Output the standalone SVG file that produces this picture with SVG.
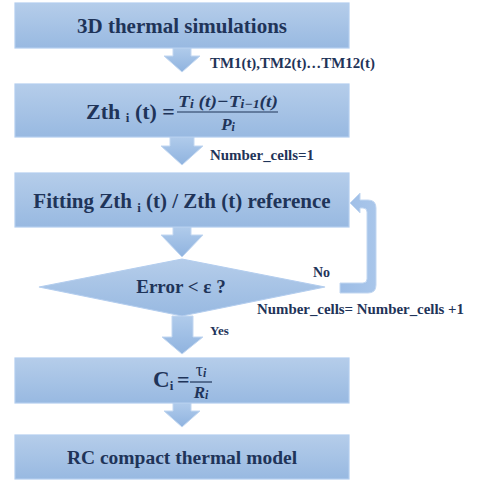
<svg xmlns="http://www.w3.org/2000/svg" width="477" height="480" viewBox="0 0 477 480">
<defs>
<linearGradient id="gBox" x1="0" y1="0" x2="0" y2="1">
<stop offset="0" stop-color="#b5cdea"/>
<stop offset="1" stop-color="#98b9e1"/>
</linearGradient>
<linearGradient id="gArr" x1="0" y1="0" x2="0" y2="1">
<stop offset="0" stop-color="#b0cbeb"/>
<stop offset="1" stop-color="#8fb3df"/>
</linearGradient>
<linearGradient id="gFb" x1="0" y1="0" x2="1" y2="0">
<stop offset="0" stop-color="#9dbde6"/>
<stop offset="1" stop-color="#a9c6ea"/>
</linearGradient>
</defs>
<style>
.box{fill:url(#gBox);stroke:#b3cdee;stroke-width:1.2}
.arr{fill:url(#gArr);stroke:#c2d7f1;stroke-width:1}
.t{font-family:"Liberation Serif","Times New Roman",serif;font-weight:bold;fill:#1f3459}
.m{font-family:"Liberation Serif","Times New Roman",serif;font-weight:bold;font-style:italic;fill:#1f3459}
</style>
<g id="connectors">
<path class="arr" d="M173,48 H191 V56 H200 L182,72 L164,56 H173 Z"/>
<path class="arr" d="M170,137 H194 V146 H203 L182,165 L161,146 H170 Z"/>
<path class="arr" d="M173,227 H191 V235 H203 L182,257 L161,235 H173 Z"/>
<path class="arr" d="M172,316 H193 V337 H203 L182,354 L162,337 H172 Z"/>
<path class="arr" d="M173,403 H191 V411 H200 L182,427 L164,411 H173 Z"/>
<path fill="url(#gFb)" stroke="#c2d7f1" stroke-width="1" d="M340,283 H363 Q367,283 367,279 V212 Q367,208 363,208 H360 V213 L350,203 L360,193 V200 H368 Q376,200 376,208 V285 Q376,293 368,293 H340 Z"/>
<text class="t" x="210" y="68" font-size="14" textLength="165" lengthAdjust="spacingAndGlyphs">TM1(t),TM2(t)…TM12(t)</text>
<text class="t" x="210" y="160" font-size="14" textLength="104" lengthAdjust="spacingAndGlyphs">Number_cells=1</text>
<text class="t" x="313" y="277" font-size="14">No</text>
<text class="t" x="257" y="314" font-size="14" textLength="207" lengthAdjust="spacingAndGlyphs">Number_cells= Number_cells +1</text>
<text class="t" x="210" y="335" font-size="13">Yes</text>
</g>
<g id="n1">
<rect class="box" x="15" y="3" width="334" height="45"/>
<text class="t" x="182" y="33" font-size="21" text-anchor="middle">3D thermal simulations</text>
</g>
<g id="n2">
<rect class="box" x="15" y="84" width="334" height="53"/>
<text class="t" x="86" y="119" font-size="22">Zth <tspan font-size="13" dy="3">i</tspan><tspan dy="-3"> (t) =</tspan></text>
<text class="m" x="178" y="107" font-size="17" textLength="100" lengthAdjust="spacingAndGlyphs">T<tspan font-size="12" dy="1">i</tspan><tspan dy="-1"> (t)−T</tspan><tspan font-size="12" dy="1">i−1</tspan><tspan dy="-1">(t)</tspan></text>
<line x1="177" y1="112" x2="278" y2="112" stroke="#1f3459" stroke-width="1.2"/>
<text class="m" x="228" y="130" font-size="17" text-anchor="middle">P<tspan font-size="12" dy="1">i</tspan></text>
</g>
<g id="n3">
<rect class="box" x="15" y="173" width="334" height="54"/>
<text class="t" x="182" y="208" font-size="21" text-anchor="middle">Fitting Zth <tspan font-size="13" dy="4">i</tspan><tspan dy="-4"> (t) / Zth (t) reference</tspan></text>
</g>
<g id="n4">
<polygon class="box" points="39,287 182,259 325,287 182,316"/>
<text class="t" x="181" y="293" font-size="19" text-anchor="middle">Error &lt; ε ?</text>
</g>
<g id="n5">
<rect class="box" x="15" y="358" width="334" height="45"/>
<text class="t" x="153" y="387" font-size="23">C<tspan font-size="13" dy="3">i</tspan></text>
<text class="t" x="177" y="387" font-size="22" font-weight="normal">=</text>
<text class="m" x="201" y="376" font-size="18" text-anchor="middle"><tspan font-style="normal" font-weight="normal">τ</tspan><tspan font-size="12" dy="1">i</tspan></text>
<line x1="190" y1="382" x2="212" y2="382" stroke="#1f3459" stroke-width="1.2"/>
<text class="m" x="201" y="398" font-size="17" text-anchor="middle">R<tspan font-size="12" dy="1">i</tspan></text>
</g>
<g id="n6">
<rect class="box" x="15" y="435" width="334" height="44"/>
<text class="t" x="182" y="464" font-size="19.5" text-anchor="middle">RC compact thermal model</text>
</g>
</svg>
